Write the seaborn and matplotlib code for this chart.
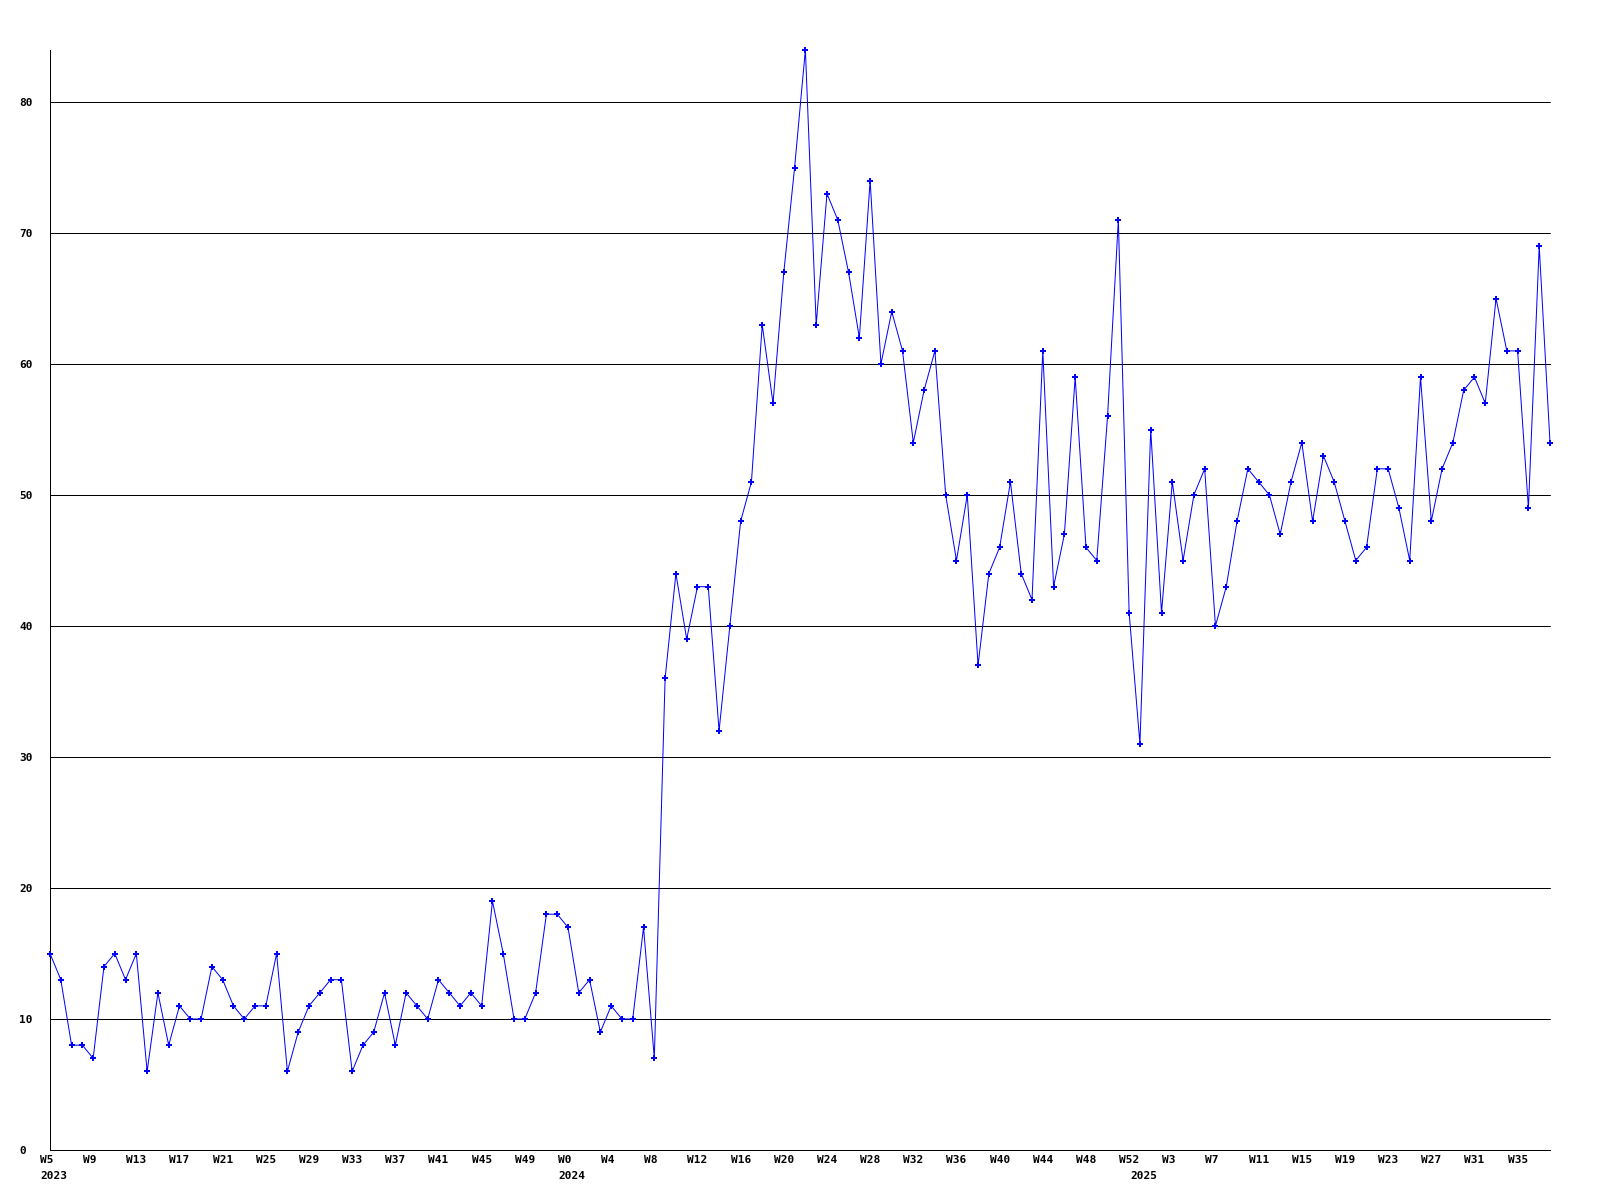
import matplotlib
matplotlib.use("Agg")
import matplotlib.pyplot as plt
import matplotlib.transforms as mtransforms
import numpy as np
import pandas as pd
import seaborn as sns

# ---- data ----
values = [
    15, 13, 8, 8, 7, 14, 15, 13, 15, 6, 12, 8, 11, 10, 10, 14, 13, 11, 10, 11,
    11, 15, 6, 9, 11, 12, 13, 13, 6, 8, 9, 12, 8, 12, 11, 10, 13, 12, 11, 12,
    11, 19, 15, 10, 10, 12, 18, 18, 17, 12, 13, 9, 11, 10, 10, 17, 7, 36, 44, 39,
    43, 43, 32, 40, 48, 51, 63, 57, 67, 75, 84, 63, 73, 71, 67, 62, 74, 60, 64, 61,
    54, 58, 61, 50, 45, 50, 37, 44, 46, 51, 44, 42, 61, 43, 47, 59, 46, 45, 56, 71,
    41, 31, 55, 41, 51, 45, 50, 52, 40, 43, 48, 52, 51, 50, 47, 51, 54, 48, 53, 51,
    48, 45, 46, 52, 52, 49, 45, 59, 48, 52, 54, 58, 59, 57, 65, 61, 61, 49, 69, 54,
]
tick_labels = [
    "W5", "W9", "W13", "W17", "W21", "W25", "W29", "W33", "W37", "W41", "W45", "W49",
    "W0", "W4", "W8", "W12", "W16", "W20", "W24", "W28", "W32", "W36", "W40", "W44",
    "W48", "W52", "W3", "W7", "W11", "W15", "W19", "W23", "W27", "W31", "W35",
]
years = ["2023", "2024", "2025"]
year_first_week_index = [0, 48, 101]
y_ticks = [0, 10, 20, 30, 40, 50, 60, 70, 80]

df = pd.DataFrame({"idx": np.arange(len(values)), "value": values})

sns.set_style("white")
plt.rcParams["font.family"] = ["DejaVu Sans Mono", "DejaVu Sans"]
plt.rcParams["font.weight"] = "bold"
plt.rcParams["text.color"] = "black"
plt.rcParams["xtick.color"] = "black"
plt.rcParams["ytick.color"] = "black"

fig = plt.figure(figsize=(16, 12), dpi=100)
ax = fig.add_axes([50 / 1600, 1 - 1150 / 1200, 1500 / 1600, (1150 - 49.6) / 1200])

px = 72 / 100  # one pixel in points

for yv in y_ticks[1:]:
    ax.axhline(yv, color="black", lw=px, zorder=1)

sns.lineplot(data=df, x="idx", y="value", ax=ax, color="#0000ff", lw=px,
             marker="P", markersize=4.5, markeredgewidth=0, markerfacecolor="#0000ff",
             zorder=3, legend=False)
for ln in ax.lines:
    ln.set_clip_on(False)

ax.set_xlim(0, len(values) - 1)
ax.set_ylim(0, max(values))
ax.set_xlabel("")
ax.set_ylabel("")

for s in ["top", "right"]:
    ax.spines[s].set_visible(False)
for s in ["left", "bottom"]:
    ax.spines[s].set_color("black")
    ax.spines[s].set_linewidth(px)

ax.xaxis.remove_overlapping_locs = False
ax.set_xticks(np.arange(0, len(values), 4)[: len(tick_labels)])
ax.set_xticklabels(tick_labels, fontsize=8, fontweight="bold", ha="left", color="black")
ax.set_xticks(year_first_week_index, minor=True)
ax.set_xticklabels(years, minor=True, fontsize=8, fontweight="bold", ha="left", color="black")
ax.tick_params(axis="x", which="major", length=0, pad=3.5)
ax.tick_params(axis="x", which="minor", length=0, pad=15)

offset = mtransforms.ScaledTranslation(-10 / 100, 0, fig.dpi_scale_trans)
for lab in ax.get_xticklabels() + ax.get_xticklabels(minor=True):
    lab.set_transform(lab.get_transform() + offset)

ax.set_yticks(y_ticks)
ax.set_yticklabels([str(v) for v in y_ticks], fontsize=8, fontweight="bold", color="black")
ax.tick_params(axis="y", length=0, pad=22)
for lab in ax.get_yticklabels():
    lab.set_ha("left")

fig.savefig("out.png", dpi=100, facecolor="white")
